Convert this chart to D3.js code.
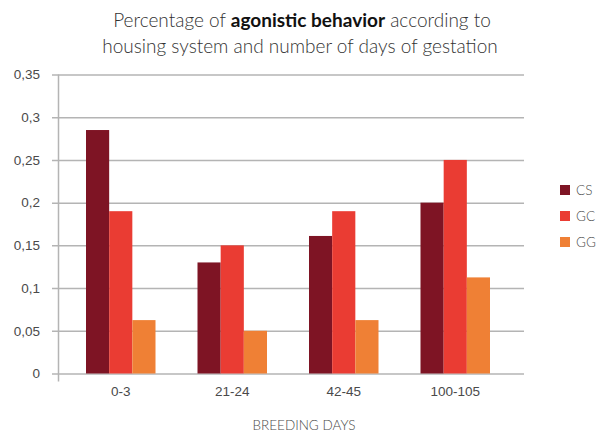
<!DOCTYPE html>
<html>
<head>
<meta charset="utf-8">
<script src="https://cdn.jsdelivr.net/npm/d3@7"></script>
<style>
  html, body { margin: 0; padding: 0; background: #fff; }
  svg { display: block; font-family: Lato, "Open Sans", sans-serif; }
</style>
</head>
<body>
<svg id="chart" width="599" height="432"></svg>
<script>
// Breeding-day groups and the three housing systems
const categories = ["0-3", "21-24", "42-45", "100-105"];
const seriesNames = ["CS", "GC", "GG"];
const csValues = [0.285, 0.13, 0.161, 0.2];
const gcValues = [0.19, 0.15, 0.19, 0.25];
const ggValues = [0.0625, 0.05, 0.0625, 0.1125];
const yTicks = [0, 0.05, 0.1, 0.15, 0.2, 0.25, 0.3, 0.35];
const colors = ["#7e1424", "#ea3c33", "#ef8035"];

const seriesValues = [csValues, gcValues, ggValues];
const svg = d3.select("#chart");

const y = d3.scaleLinear().domain([0, 0.35]).range([373.5, 74.5]);
const x0 = d3.scaleBand().domain(categories).range([65, 511]).paddingInner(0).paddingOuter(0);
const x1 = d3.scaleBand().domain(seriesNames).range([21, x0.bandwidth() - 21]).padding(0);

const fmt = v => String(v).replace(".", ",");
const textColor = "#4a4a4a";

// Horizontal gridlines with the left tick stubs
const yAxis = d3.axisLeft(y)
  .tickValues(yTicks)
  .tickFormat(fmt)
  .tickSize(-(524 - 52))
  .tickPadding(12);

const gy = svg.append("g")
  .attr("transform", "translate(52,0)")
  .call(yAxis);
gy.select(".domain").remove();
gy.selectAll(".tick line")
  .attr("stroke", "#b4b4b4")
  .attr("stroke-width", 1.5);
gy.selectAll(".tick text")
  .attr("fill", textColor)
  .attr("font-size", 13.5)
  .attr("font-weight", 300)
  .attr("x", -12);

// Vertical axis line
svg.append("line")
  .attr("x1", 58.5).attr("x2", 58.5)
  .attr("y1", y(0.35)).attr("y2", 381.5)
  .attr("stroke", "#b4b4b4")
  .attr("stroke-width", 1.5);

// Grouped bars
const groups = svg.append("g")
  .selectAll("g")
  .data(categories)
  .join("g")
  .attr("transform", d => `translate(${x0(d)},0)`);

groups.selectAll("rect")
  .data((d, i) => seriesNames.map((s, j) => ({ s, j, v: seriesValues[j][i] })))
  .join("rect")
  .attr("x", d => x1(d.s))
  .attr("width", x1.bandwidth())
  .attr("y", d => y(d.v))
  .attr("height", d => y(0) - y(d.v))
  .attr("fill", d => colors[d.j]);

// Category labels
const xAxis = d3.axisBottom(x0).tickSize(0).tickPadding(13);
const gx = svg.append("g")
  .attr("transform", `translate(0,${y(0)})`)
  .call(xAxis);
gx.select(".domain").remove();
gx.selectAll(".tick text")
  .attr("fill", textColor)
  .attr("font-size", 13.5)
  .attr("font-weight", 300);

// Axis title
svg.append("text")
  .attr("x", 304).attr("y", 430)
  .attr("text-anchor", "middle")
  .attr("fill", textColor)
  .attr("font-size", 13.5)
  .attr("font-weight", 300)
  .text("BREEDING DAYS");

// Chart title
const title = svg.append("text")
  .attr("text-anchor", "middle")
  .attr("fill", "#333")
  .attr("font-size", 19)
  .attr("font-weight", 300);
const line1 = title.append("tspan").attr("x", 302).attr("y", 27);
line1.append("tspan").text("Percentage of ");
line1.append("tspan").attr("font-weight", "bold").attr("fill", "#111").text("agonistic behavior");
line1.append("tspan").text(" according to");
title.append("tspan").attr("x", 300).attr("y", 53).text("housing system and number of days of gestation");

// Legend
const legend = svg.append("g")
  .selectAll("g")
  .data(seriesNames)
  .join("g")
  .attr("transform", (d, i) => `translate(560,${185 + i * 26})`);
legend.append("rect")
  .attr("width", 10).attr("height", 10)
  .attr("fill", (d, i) => colors[i]);
legend.append("text")
  .attr("x", 16).attr("y", 10)
  .attr("fill", textColor)
  .attr("font-size", 13.5)
  .attr("font-weight", 300)
  .text(d => d);
</script>
</body>
</html>
